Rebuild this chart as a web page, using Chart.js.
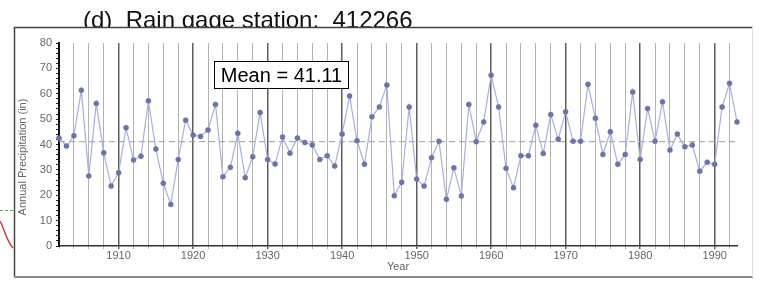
<!DOCTYPE html>
<html>
<head>
<meta charset="utf-8">
<script src="https://cdn.jsdelivr.net/npm/chart.js@4"></script>
<style>
  html, body { margin: 0; padding: 0; background: #fff; }
  canvas { display: block; }
</style>
</head>
<body>
<canvas id="rainChart" width="762" height="282"></canvas>
<script>
const chartTitle = '(d)  Rain gage station:  412266';
const meanLabel = 'Mean = 41.11';
const meanValue = 41.11;

const years = [
  1902, 1903, 1904, 1905, 1906, 1907, 1908, 1909, 1910, 1911,
  1912, 1913, 1914, 1915, 1916, 1917, 1918, 1919, 1920, 1921,
  1922, 1923, 1924, 1925, 1926, 1927, 1928, 1929, 1930, 1931,
  1932, 1933, 1934, 1935, 1936, 1937, 1938, 1939, 1940, 1941,
  1942, 1943, 1944, 1945, 1946, 1947, 1948, 1949, 1950, 1951,
  1952, 1953, 1954, 1955, 1956, 1957, 1958, 1959, 1960, 1961,
  1962, 1963, 1964, 1965, 1966, 1967, 1968, 1969, 1970, 1971,
  1972, 1973, 1974, 1975, 1976, 1977, 1978, 1979, 1980, 1981,
  1982, 1983, 1984, 1985, 1986, 1987, 1988, 1989, 1990, 1991,
  1992, 1993
];

// annual precipitation (in)
const precip = [
  42.6, 39.4, 43.4, 61.4, 27.6, 56.2, 36.7, 23.6, 28.9, 46.6,
  33.9, 35.4, 57.2, 38.2, 24.7, 16.4, 34.1, 49.6, 43.7, 43.2,
  45.7, 55.8, 27.3, 31.0, 44.4, 26.9, 35.2, 52.6, 34.1, 32.3,
  43.0, 36.6, 42.6, 40.8, 39.8, 34.1, 35.6, 31.5, 44.1, 59.1,
  41.5, 32.2, 50.9, 54.8, 63.4, 19.8, 25.1, 54.8, 26.4, 23.6,
  34.8, 41.3, 18.4, 30.8, 19.7, 55.8, 41.1, 48.9, 67.3, 54.8,
  30.6, 23.0, 35.6, 35.6, 47.6, 36.5, 51.8, 42.1, 52.9, 41.3,
  41.3, 63.7, 50.3, 36.1, 45.0, 32.2, 36.1, 60.7, 34.1, 54.2,
  41.3, 56.8, 37.8, 44.1, 39.1, 39.8, 29.5, 33.0, 32.2, 54.8,
  64.1, 48.9
];

const yearLabels = [1910, 1920, 1930, 1940, 1950, 1960, 1970, 1980, 1990];
const yLabels = [0, 10, 20, 30, 40, 50, 60, 70, 80];

const FONT = '"Liberation Sans", Arial, sans-serif';

// frame, title, mean box and axis title drawn around the chart
const framePlugin = {
  id: 'frame',
  beforeDraw(chart) {
    const ctx = chart.ctx;
    ctx.save();
    ctx.fillStyle = '#fff';
    ctx.fillRect(0, 0, chart.width, chart.height);

    ctx.fillStyle = '#111';
    ctx.font = '24px ' + FONT;
    ctx.textBaseline = 'alphabetic';
    ctx.fillText(chartTitle, 83, 28);

    // bit of the neighbouring figure on the far left
    ctx.strokeStyle = '#d23a3a';
    ctx.lineWidth = 1.5;
    ctx.beginPath();
    ctx.moveTo(0, 221);
    ctx.bezierCurveTo(4, 228, 6, 240, 13, 248);
    ctx.stroke();
    ctx.strokeStyle = '#6aa06a';
    ctx.lineWidth = 1;
    ctx.setLineDash([3, 2]);
    ctx.beginPath();
    ctx.moveTo(0, 210.5);
    ctx.lineTo(13, 210.5);
    ctx.stroke();
    ctx.setLineDash([]);

    // panel
    ctx.fillStyle = '#fff';
    ctx.fillRect(14, 27, 739, 250);
    ctx.strokeStyle = '#444';
    ctx.lineWidth = 1.5;
    ctx.beginPath();
    ctx.moveTo(14, 27.5);
    ctx.lineTo(753, 27.5);
    ctx.moveTo(14.5, 27);
    ctx.lineTo(14.5, 277);
    ctx.stroke();
    ctx.strokeStyle = '#888';
    ctx.lineWidth = 2;
    ctx.beginPath();
    ctx.moveTo(14, 277);
    ctx.lineTo(753, 277);
    ctx.stroke();
    ctx.strokeStyle = '#ddd';
    ctx.lineWidth = 1;
    ctx.beginPath();
    ctx.moveTo(752.5, 27);
    ctx.lineTo(752.5, 277);
    ctx.stroke();

    ctx.translate(23, 157);
    ctx.rotate(-Math.PI / 2);
    ctx.fillStyle = '#666';
    ctx.font = '11px ' + FONT;
    ctx.textAlign = 'center';
    ctx.textBaseline = 'middle';
    ctx.fillText('Annual Precipitation (in)', 0, 0);
    ctx.restore();
  },
  afterDraw(chart) {
    const ctx = chart.ctx;
    ctx.save();
    ctx.fillStyle = '#fff';
    ctx.fillRect(214.5, 61.5, 134, 27);
    ctx.strokeStyle = '#000';
    ctx.lineWidth = 1;
    ctx.strokeRect(214.5, 61.5, 134, 27);
    ctx.fillStyle = '#000';
    ctx.font = '20px ' + FONT;
    ctx.textAlign = 'center';
    ctx.textBaseline = 'middle';
    ctx.fillText(meanLabel, 281.5, 76);
    ctx.restore();
  }
};

const ctx = document.getElementById('rainChart').getContext('2d');

new Chart(ctx, {
  type: 'line',
  data: {
    datasets: [
      {
        label: 'Annual precipitation',
        data: years.map((yr, i) => ({ x: yr, y: precip[i] })),
        borderColor: '#a9aee0',
        borderWidth: 1.2,
        pointRadius: 2.5,
        pointBackgroundColor: '#6b73b0',
        pointBorderColor: '#5c64a3',
        pointBorderWidth: 0.5,
        tension: 0,
        clip: false,
        order: 1
      },
      {
        label: 'Mean',
        data: [{ x: years[0], y: meanValue }, { x: years[years.length - 1], y: meanValue }],
        borderColor: '#8da393',
        borderWidth: 1,
        borderDash: [6, 4],
        pointRadius: 0,
        order: 2
      }
    ]
  },
  options: {
    responsive: false,
    animation: false,
    layout: { padding: { left: 14, top: 43, right: 25, bottom: 8 } },
    plugins: {
      legend: { display: false },
      tooltip: { enabled: false },
      title: { display: false }
    },
    scales: {
      x: {
        type: 'linear',
        min: 1902,
        max: 1993,
        afterBuildTicks: scale => {
          const t = [];
          for (let v = 1902; v <= 1993; v += 2) t.push({ value: v });
          scale.ticks = t;
        },
        afterFit: scale => { scale.height = 28; },
        ticks: {
          autoSkip: false,
          maxRotation: 0,
          padding: 0,
          color: '#666',
          font: { family: FONT, size: 11 },
          callback: v => (yearLabels.includes(v) ? String(v) : '')
        },
        grid: {
          color: c => (c.tick && c.tick.value % 10 === 0 ? '#5e5e5e' : '#b2b2b2'),
          lineWidth: c => (c.tick && c.tick.value % 10 === 0 ? 1.5 : 1),
          tickLength: 3
        },
        border: { display: true, color: '#333', width: 1.5 },
        title: {
          display: true,
          text: 'Year',
          color: '#666',
          font: { family: FONT, size: 11 },
          padding: { top: 0, bottom: 0 }
        }
      },
      y: {
        min: 0,
        max: 80,
        afterBuildTicks: scale => {
          const t = [];
          for (let v = 0; v <= 80; v += 2) t.push({ value: v });
          scale.ticks = t;
        },
        afterFit: scale => { scale.width = 45; },
        ticks: {
          autoSkip: false,
          padding: 4,
          color: '#666',
          font: { family: FONT, size: 11 },
          callback: v => (yLabels.includes(v) ? String(v) : '')
        },
        grid: {
          drawOnChartArea: false,
          color: '#222',
          tickLength: 3
        },
        border: { display: true, color: '#111', width: 2 }
      }
    }
  },
  plugins: [framePlugin]
});
</script>
</body>
</html>
